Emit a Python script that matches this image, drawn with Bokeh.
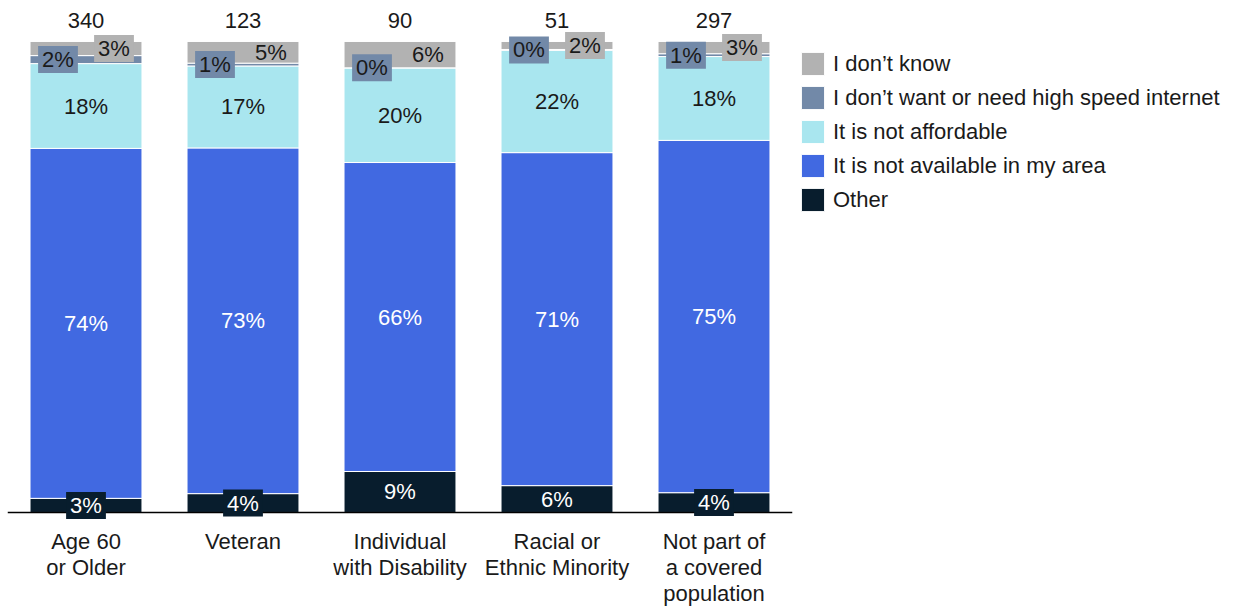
from bokeh.plotting import figure
from bokeh.models import ColumnDataSource, FactorRange, Range1d, Legend, LegendItem, Span
from bokeh.core.properties import value
from bokeh.embed import file_html
from bokeh.resources import INLINE

# ---------------- data ----------------
categories = ["Age 60 or Older", "Veteran", "Individual with Disability",
              "Racial or Ethnic Minority", "Not part of a covered population"]
category_label_lines = [["Age 60", "or Older"], ["Veteran"], ["Individual", "with Disability"],
                        ["Racial or", "Ethnic Minority"], ["Not part of", "a covered", "population"]]
respondents = [340, 123, 90, 51, 297]

other = [3.0, 4.0, 8.7, 5.7, 4.2]
not_available = [74.3, 73.4, 65.6, 70.7, 74.8]
not_affordable = [18.0, 17.4, 20.1, 21.7, 17.8]
dont_want = [1.7, 0.6, 0.0, 0.2, 0.6]
dont_know = [3.0, 4.6, 5.6, 1.7, 2.6]

series_names = ["Other", "It is not available in my area", "It is not affordable",
                "I don\u2019t want or need high speed internet", "I don\u2019t know"]
series_values = [other, not_available, not_affordable, dont_want, dont_know]

# ---------------- style ----------------
colors = ["#081d2d", "#4169e1", "#a9e6ef", "#7289a8", "#b2b2b2"]
text_colors = ["#ffffff", "#ffffff", "#1a1a1a", "#1a1a1a", "#1a1a1a"]
label_x_offsets = [0, 0, 0, -28, 28]
FONT = "Liberation Sans"
FS = "22px"

p = figure(x_range=FactorRange(factors=categories, range_padding=0),
           y_range=Range1d(-20.6, 108.7),
           frame_width=785, frame_height=609,
           min_border_left=7, min_border_right=0, min_border_top=0, min_border_bottom=0,
           x_axis_location=None, y_axis_location=None,
           toolbar_location=None, output_backend="svg",
           outline_line_color=None, background_fill_color="white", border_fill_color="white")
p.xgrid.visible = False
p.ygrid.visible = False

bottoms = [0.0] * len(categories)
renderers = []
label_sets = []
for i, (name, vals) in enumerate(zip(series_names, series_values)):
    tops = [b + v for b, v in zip(bottoms, vals)]
    mids = [b + v / 2 for b, v in zip(bottoms, vals)]
    src = ColumnDataSource(dict(x=categories, bottom=bottoms, top=tops))
    r = p.vbar(x="x", bottom="bottom", top="top", width=0.713, source=src,
               fill_color=colors[i], line_color="white", line_width=1)
    renderers.append((name, r))
    boxed = dict(x=[], y=[], t=[])
    plain = dict(x=[], y=[], t=[])
    for c, m, v in zip(categories, mids, vals):
        d = boxed if v < 4.5 else plain
        d["x"].append(c)
        d["y"].append(m)
        d["t"].append(f"{v:.0f}%")
    label_sets.append((i, boxed, plain))
    bottoms = tops

# axis line at zero
p.add_layout(Span(location=0, dimension="width", line_color="black", line_width=1.5))

for i, boxed, plain in label_sets:
    t1 = p.text(x="x", y="y", text="t", source=ColumnDataSource(plain),
                x_offset=label_x_offsets[i], text_align="center", text_baseline="middle",
                text_font=value(FONT), text_font_size=value(FS), text_color=text_colors[i])
    t1.level = "overlay"
    t2 = p.text(x="x", y="y", text="t", source=ColumnDataSource(boxed),
                x_offset=label_x_offsets[i], text_align="center", text_baseline="middle",
                text_font=value(FONT), text_font_size=value(FS), text_color=text_colors[i],
                background_fill_color=colors[i], padding=(4, 1))
    t2.level = "overlay"

# respondent counts above bars
totals = [sum(vs) for vs in zip(*series_values)]
p.text(x=categories, y=totals, text=[str(n) for n in respondents], y_offset=-21,
       text_align="center", text_baseline="middle", text_font=value(FONT),
       text_font_size=value(FS), text_color="#1a1a1a")

# category labels below the axis line
cx, cy, ct, coff = [], [], [], []
for c, lines in zip(categories, category_label_lines):
    for k, ln in enumerate(lines):
        cx.append(c)
        cy.append(0)
        ct.append(ln)
        coff.append(29 + 26 * k)
p.text(x="x", y="y", text="t", y_offset="off",
       source=ColumnDataSource(dict(x=cx, y=cy, t=ct, off=coff)),
       text_align="center", text_baseline="alphabetic", text_font=value(FONT),
       text_font_size=value(FS), text_color="#1a1a1a")

legend = Legend(items=[LegendItem(label=n, renderers=[r]) for n, r in reversed(renderers)],
                location=(6, 395), glyph_width=29, glyph_height=29, label_height=23,
                spacing=5, padding=12, margin=0, label_standoff=6,
                label_text_font=FONT, label_text_font_size=FS, label_text_color="#1a1a1a",
                border_line_color=None, background_fill_alpha=0)
p.add_layout(legend, "right")

open("out.html", "w").write(file_html(p, INLINE))
